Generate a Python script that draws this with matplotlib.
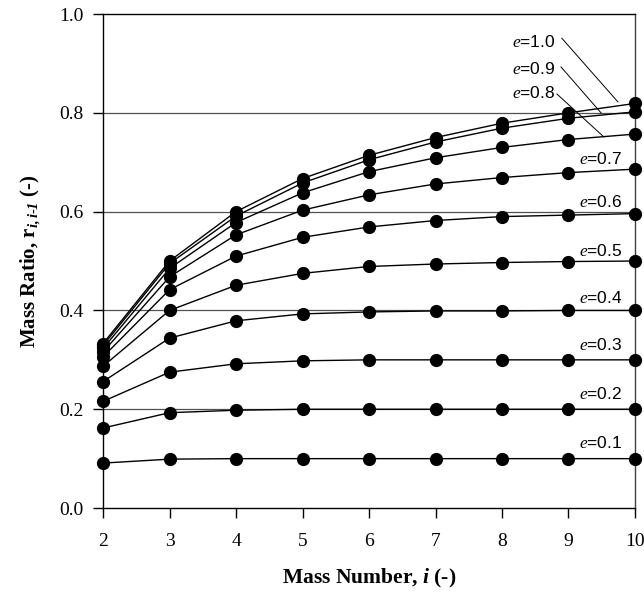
import matplotlib
matplotlib.use('Agg')
import matplotlib.pyplot as plt

# 质量数 i
mass_number = [2, 3, 4, 5, 6, 7, 8, 9, 10]

# 各 e 值下的质量比 r_{i,i-1}
r_e01 = [0.091, 0.099, 0.100, 0.100, 0.100, 0.100, 0.100, 0.100, 0.100]
r_e02 = [0.162, 0.193, 0.198, 0.200, 0.200, 0.200, 0.200, 0.200, 0.200]
r_e03 = [0.216, 0.275, 0.292, 0.298, 0.300, 0.300, 0.300, 0.300, 0.300]
r_e04 = [0.256, 0.344, 0.379, 0.393, 0.397, 0.399, 0.399, 0.400, 0.400]
r_e05 = [0.287, 0.400, 0.451, 0.475, 0.489, 0.494, 0.497, 0.499, 0.500]
r_e06 = [0.306, 0.442, 0.510, 0.548, 0.569, 0.582, 0.590, 0.593, 0.596]
r_e07 = [0.316, 0.468, 0.553, 0.603, 0.634, 0.656, 0.669, 0.679, 0.686]
r_e08 = [0.323, 0.485, 0.578, 0.638, 0.681, 0.709, 0.730, 0.746, 0.757]
r_e09 = [0.329, 0.495, 0.591, 0.658, 0.705, 0.741, 0.769, 0.789, 0.802]
r_e10 = [0.333, 0.500, 0.600, 0.667, 0.714, 0.750, 0.779, 0.800, 0.819]

series = [r_e01, r_e02, r_e03, r_e04, r_e05, r_e06, r_e07, r_e08, r_e09, r_e10]

plt.rcParams['mathtext.fontset'] = 'custom'
plt.rcParams['mathtext.rm'] = 'Liberation Serif'
plt.rcParams['mathtext.it'] = 'Liberation Serif:italic'
plt.rcParams['mathtext.bf'] = 'Liberation Serif:bold'
plt.rcParams['mathtext.bfit'] = 'Liberation Serif:italic:bold'

fig = plt.figure(figsize=(6.44, 5.97), dpi=100)
ax = fig.add_axes([0.160, 0.149, 0.826, 0.8275])

# 网格线
for g in [0.2, 0.4, 0.6, 0.8]:
    ax.axhline(g, color='#505050', lw=0.9, zorder=1)

for r in series:
    ax.plot(mass_number, r, color='black', lw=1.0, marker='o', markersize=8.5,
            markerfacecolor='black', markeredgecolor='black', clip_on=False, zorder=3)

# e 标签（右侧，0.1-0.7）
label_y = {'0.1': 0.121, '0.2': 0.221, '0.3': 0.320, '0.4': 0.415,
           '0.5': 0.510, '0.6': 0.609, '0.7': 0.697}
for lab, yy in label_y.items():
    ax.text(9.805, yy, f'$\\mathit{{e}}$={lab}', ha='right', va='baseline',
            fontsize=12.5, family='Liberation Sans')

# 0.8-1.0 带引线的标签
lead = {'1.0': (0.933, (8.90, 0.951), (9.744, 0.822)),
        '0.9': (0.878, (8.887, 0.893), (9.489, 0.800)),
        '0.8': (0.830, (8.827, 0.838), (9.534, 0.751))}
for lab, (yy, p0, p1) in lead.items():
    ax.text(8.797, yy, f'$\\mathit{{e}}$={lab}', ha='right', va='baseline',
            fontsize=12.5, family='Liberation Sans')
    ax.plot([p0[0], p1[0]], [p0[1], p1[1]], color='black', lw=0.7, zorder=2)

ax.set_xlim(2, 10)
ax.set_ylim(0, 1.0)
ax.set_xticks(mass_number)
ax.set_yticks([0.0, 0.2, 0.4, 0.6, 0.8, 1.0])
ax.set_yticklabels(['0.0', '0.2', '0.4', '0.6', '0.8', '1.0'])
ax.tick_params(direction='out', length=7, width=1.0, labelsize=14)
ax.tick_params(axis='x', pad=11)
ax.tick_params(axis='y', pad=7)
for lab in ax.get_xticklabels() + ax.get_yticklabels():
    lab.set_family('Liberation Serif')

ax.spines['right'].set_color('#404040')
for s in ax.spines.values():
    s.set_linewidth(1.0)

ax.set_xlabel('Mass Number, $\\mathbfit{i}$ (-)', family='Liberation Serif',
              fontweight='bold', fontsize=15.5, labelpad=12)
ax.set_ylabel('Mass Ratio, r$_{\\mathbfit{i,i}\\text{-}\\mathbfit{1}}$ (-)',
              family='Liberation Serif', fontweight='bold', fontsize=15, labelpad=12)

fig.savefig('out.png', dpi=100)
